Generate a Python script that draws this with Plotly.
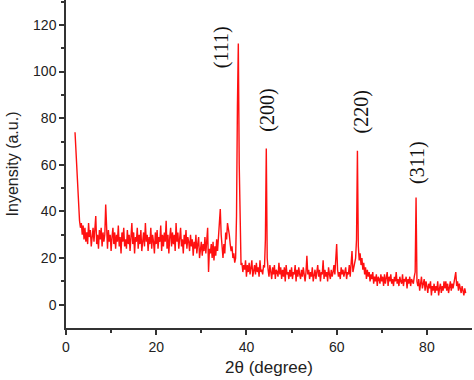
import plotly.graph_objects as go

# 2θ grid start/step (degrees) and intensity (a.u.)
theta_start = 2.0
theta_step = 0.2
intensity = [
    74, 66, 55, 46, 40, 36, 33, 35, 30, 34,
    28, 33, 27, 31, 26, 35, 29, 32, 25, 30,
    33, 27, 31, 38, 26, 30, 24, 32, 28, 33,
    25, 31, 27, 30, 43, 28, 24, 32, 27, 30,
    23, 29, 33, 26, 31, 24, 30, 27, 34, 25,
    29, 22, 31, 27, 33, 25, 28, 24, 32, 26,
    30, 23, 28, 35, 26, 31, 22, 29, 27, 33,
    24, 30, 26, 32, 23, 28, 31, 25, 35, 27,
    30, 23, 29, 26, 33, 24, 30, 27, 22, 31,
    26, 32, 24, 29, 27, 34, 23, 30, 25, 31,
    27, 36, 24, 30, 22, 29, 33, 25, 31, 26,
    30, 23, 35, 27, 31, 24, 29, 33, 25, 28,
    22, 30, 26, 32, 24, 29, 27, 23, 30, 25,
    28, 21, 27, 24, 30, 22, 26, 29, 20, 25,
    27, 21, 26, 23, 29, 22, 28, 33, 14, 24,
    22, 26, 20, 27, 19, 25, 21, 28, 23, 30,
    33, 41, 30, 24, 20, 26, 22, 31, 28, 35,
    33, 30, 26, 23, 25, 20, 22, 18, 20, 38,
    85, 112, 60, 30, 17, 18, 14, 17, 15, 19,
    12, 17, 14, 18, 13, 16, 19, 12, 15, 17,
    13, 18, 14, 16, 12, 19, 14, 15, 13, 17,
    16, 28, 67, 20, 15, 12, 17, 14, 11, 16,
    13, 17, 11, 15, 14, 12, 18, 13, 16, 11,
    15, 12, 16, 10, 17, 13, 14, 11, 15, 12,
    16, 11, 14, 13, 17, 10, 15, 12, 16, 13,
    11, 15, 12, 16, 13, 10, 14, 21, 13, 15,
    11, 14, 12, 16, 10, 13, 15, 11, 14, 17,
    12, 15, 10, 14, 13, 19, 11, 15, 12, 14,
    10, 16, 13, 11, 15, 12, 14, 17, 13, 20,
    26, 15, 12, 14, 11, 16, 13, 15, 12, 14,
    16, 11, 14, 13, 17, 12, 20, 23, 14, 16,
    18, 20, 28, 66, 25, 19, 22, 17, 20, 15,
    18, 13, 16, 11, 15, 12, 14, 10, 13, 11,
    14, 9, 12, 10, 13, 8, 12, 11, 9, 13,
    10, 12, 8, 13, 9, 11, 14, 8, 12, 10,
    13, 9, 11, 8, 12, 10, 14, 9, 11, 8,
    12, 10, 9, 13, 8, 11, 10, 12, 7, 11,
    9, 12, 8, 11, 10, 9, 12, 14, 46, 10,
    8, 11, 6, 10, 12, 7, 9, 11, 6, 10,
    8, 5, 9, 7, 10, 4, 8, 6, 9, 5,
    8, 6, 10, 4, 7, 9, 5, 8, 6, 10,
    7, 10, 6, 9, 5, 8, 10, 6, 9, 7,
    9, 11, 14, 8, 10, 6, 9, 7, 5, 8,
    6, 4, 7, 5,
]
two_theta = [round(theta_start + theta_step * i, 2) for i in range(len(intensity))]

# peak labels
peak_labels = ["(111)", "(200)", "(220)", "(311)"]
peak_label_x = [34.4, 44.5, 65.4, 77.9]
peak_label_y = [110.5, 83.5, 82.5, 61]

fig = go.Figure()
fig.add_trace(go.Scatter(x=two_theta, y=intensity, mode="lines",
                         line=dict(color="#ff1010", width=1.4), showlegend=False))

for lab, px, py in zip(peak_labels, peak_label_x, peak_label_y):
    fig.add_annotation(x=px, y=py, text=lab, showarrow=False, textangle=-90,
                       font=dict(family="Liberation Serif", size=20, color="#111"))

axis_common = dict(showline=True, linecolor="#333", linewidth=1.5, ticks="outside",
                   ticklen=5, tickwidth=1.5, tickcolor="#333", showgrid=False, zeroline=False,
                   automargin=False,
                   tickfont=dict(family="Liberation Sans", size=14, color="#222"))
fig.update_xaxes(range=[0, 90], tickvals=[0, 20, 40, 60, 80],
                 minor=dict(tickvals=[10, 30, 50, 70], ticks="outside", ticklen=3, tickcolor="#333", tickwidth=1.5),
                 title=dict(text="2θ (degree)", font=dict(family="Liberation Sans", size=17, color="#222"), standoff=8),
                 **axis_common)
fig.update_yaxes(range=[-10, 130.7], tickvals=[0, 20, 40, 60, 80, 100, 120],
                 minor=dict(tickvals=[10, 30, 50, 70, 90, 110, 130], ticks="outside", ticklen=3, tickcolor="#333", tickwidth=1.5),
                 title=dict(text="Inyensity (a.u.)", font=dict(family="Liberation Sans", size=16, color="#222"), standoff=10),
                 **axis_common)
fig.update_layout(width=474, height=380, margin=dict(l=66, r=2, t=0, b=52),
                  plot_bgcolor="white", paper_bgcolor="white")
fig.write_html("out.html", config={"displayModeBar": False},
               post_script="document.body.style.margin='0';document.body.style.overflow='hidden';")
